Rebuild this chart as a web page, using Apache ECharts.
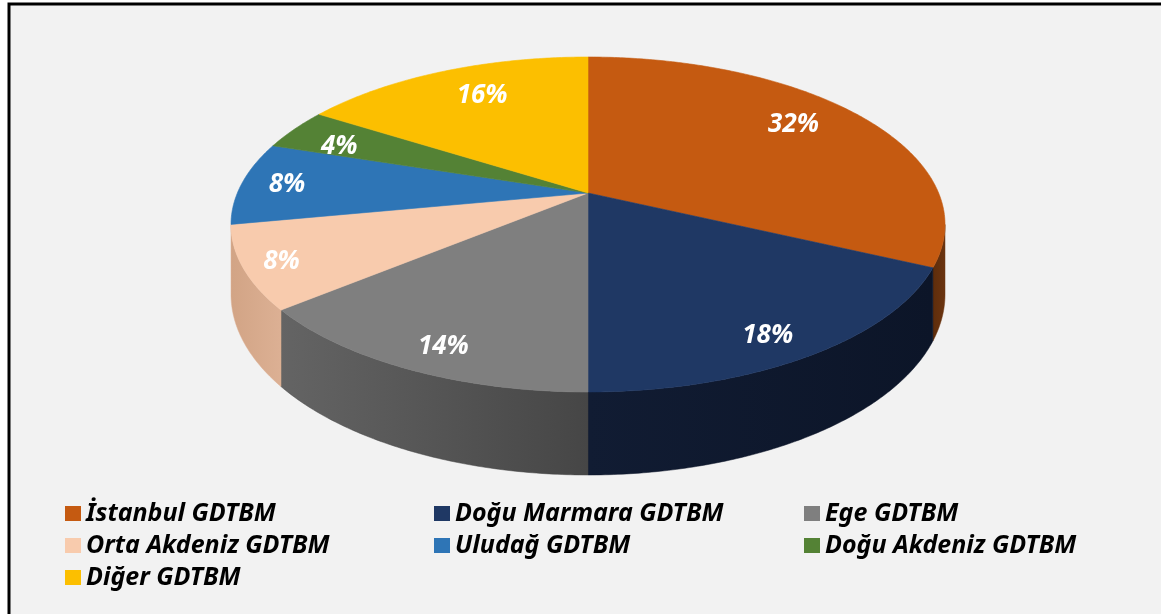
<!DOCTYPE html>
<html>
<head>
<meta charset="utf-8">
<script src="https://cdn.jsdelivr.net/npm/echarts@6.0.0/dist/echarts.min.js"></script>
<style>
  html, body { margin: 0; padding: 0; background: #fff; }
  #main { width: 1161px; height: 614px; }
</style>
</head>
<body>
<div id="main"></div>
<script>
  // slices (clockwise from 12 o'clock)
  var categories = ['İstanbul GDTBM', 'Doğu Marmara GDTBM', 'Ege GDTBM', 'Orta Akdeniz GDTBM',
    'Uludağ GDTBM', 'Doğu Akdeniz GDTBM', 'Diğer GDTBM'];
  var shares = [32, 18, 14, 8, 8, 4, 16];

  // legend columns
  var legendCol1 = ['İstanbul GDTBM', 'Orta Akdeniz GDTBM', 'Diğer GDTBM'];
  var legendCol2 = ['Doğu Marmara GDTBM', 'Uludağ GDTBM'];
  var legendCol3 = ['Ege GDTBM', 'Doğu Akdeniz GDTBM'];

  var topColors = ['#c55a11', '#1f3864', '#7f7f7f', '#f8cbad', '#2e75b6', '#548235', '#fcbf00'];
  // wall shading left -> right
  var sideColors = [
    ['#5e2d0b', '#6b3410'],
    ['#111c33', '#0c1528'],
    ['#646464', '#464646'],
    ['#d2a485', '#dcb094'],
    ['#1f5286', '#1f5286'],
    ['#3a5c25', '#3a5c25'],
    ['#b38800', '#b38800']
  ];
  // small pixel nudges so the % labels sit where excel put them
  var labelNudge = [[-17, -3], [-13, 3], [11, 1], [-13, 5], [-11, 0], [-5, 6], [13, 2]];

  var total = shares.reduce(function (a, b) { return a + b; }, 0);
  var starts = [];
  var acc = 0;
  shares.forEach(function (v) { starts.push(acc); acc += v; });

  // 3d pie projection (pixels of the 1161x614 page)
  var CX = 588, HUB_Y = 193, FAR_Y = 57, NEAR_Y = 392, HALF_W = 357, DEPTH = 83;
  var persp = (2 * HUB_Y - FAR_Y - NEAR_Y) / (NEAR_Y - FAR_Y);
  var ka = HUB_Y - FAR_Y + FAR_Y * persp;
  var kd = HALF_W * Math.sqrt(1 - persp * persp);
  var kh = DEPTH * (1 + persp);
  var F0 = Math.acos(persp), F1 = 2 * Math.PI - Math.acos(persp); // visible front rim

  function project(phi, r, z) {
    var u = r * Math.sin(phi), v = -r * Math.cos(phi);
    var w = 1 + persp * v;
    return [CX + kd * u / w, (ka * v + HUB_Y + z * kh) / w];
  }

  function arc(a, b, r, z) {
    var pts = [];
    var n = Math.max(2, Math.ceil((b - a) / 0.01));
    for (var k = 0; k <= n; k++) {
      pts.push(project(a + (b - a) * k / n, r, z));
    }
    return pts;
  }

  function renderSlice(i) {
    return function (params, api) {
      var val = api.value(0);
      var s = starts[i] / total * Math.PI * 2;
      var e = s + val / total * Math.PI * 2;
      var children = [];

      // side wall
      var a = Math.max(s, F0), b = Math.min(e, F1);
      if (b > a) {
        var pts = arc(a, b, 1, 0).concat(arc(a, b, 1, 1).reverse());
        var xs = pts.map(function (p) { return p[0]; });
        var x0 = Math.min.apply(null, xs), x1 = Math.max.apply(null, xs);
        children.push({
          type: 'polygon',
          shape: { points: pts },
          style: {
            fill: {
              type: 'linear', x: x0, y: 0, x2: x1, y2: 0, global: true,
              colorStops: [{ offset: 0, color: sideColors[i][0] }, { offset: 1, color: sideColors[i][1] }]
            },
            stroke: sideColors[i][1], lineWidth: 0.5
          }
        });
      }

      // top face
      var tp = [project(0, 0, 0)].concat(arc(s, e, 1, 0));
      children.push({
        type: 'polygon',
        shape: { points: tp },
        style: { fill: topColors[i], stroke: topColors[i], lineWidth: 0.6 }
      });

      // percentage label
      var mid = (s + e) / 2;
      var lp = project(mid, 0.84 - 0.05 * Math.cos(mid), 0);
      children.push({
        type: 'text',
        x: lp[0] + labelNudge[i][0], y: lp[1] + labelNudge[i][1],
        style: {
          text: Math.round(val / total * 100) + '%',
          fill: '#fff',
          fontFamily: 'Noto Sans', fontStyle: 'italic', fontWeight: 'bold', fontSize: 26,
          align: 'center', verticalAlign: 'middle'
        }
      });
      return { type: 'group', children: children };
    };
  }

  var legendText = { fontFamily: 'Noto Sans', fontStyle: 'italic', fontWeight: 'bold', fontSize: 25, color: '#000', lineHeight: 25 };
  function legendCol(names, left) {
    return {
      data: names, left: left, top: 501, orient: 'vertical', padding: 0,
      itemGap: 7, itemWidth: 16, itemHeight: 15, icon: 'rect',
      selectedMode: false, textStyle: legendText
    };
  }

  var myChart = echarts.init(document.getElementById('main'));
  var option = {
    animation: false,
    backgroundColor: '#fff',
    graphic: [{
      type: 'rect', z: -10,
      shape: { x: 9, y: 4, width: 1300, height: 800 },
      style: { fill: '#f2f2f2', stroke: '#000', lineWidth: 3 }
    }],
    legend: [legendCol(legendCol1, 65), legendCol(legendCol2, 434), legendCol(legendCol3, 804)],
    series: categories.map(function (name, i) {
      return {
        type: 'custom',
        name: name,
        coordinateSystem: 'none',
        silent: true,
        itemStyle: { color: topColors[i] },
        data: [shares[i]],
        renderItem: renderSlice(i)
      };
    })
  };
  myChart.setOption(option);
</script>
</body>
</html>
